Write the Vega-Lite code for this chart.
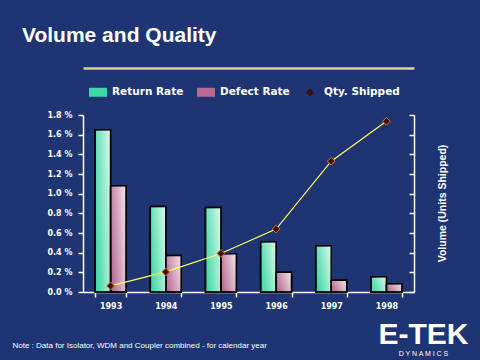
{
  "$schema": "https://vega.github.io/schema/vega-lite/v6.json",
  "width": 331,
  "height": 177,
  "autosize": {"type": "none"},
  "padding": {"left": 83, "top": 115, "right": 66, "bottom": 68},
  "background": "#1e3473",
  "config": {
    "view": {"stroke": null},
    "font": "Liberation Sans",
    "legend": {"symbolStrokeColor": "black", "symbolStrokeWidth": 1.5}
  },
  "title": {
    "text": "Volume and Quality",
    "anchor": "start",
    "frame": "group",
    "color": "white",
    "font": "Liberation Sans",
    "fontSize": 21,
    "fontWeight": "bold",
    "dx": -61,
    "offset": 22
  },
  "datasets": {
    "rates": [
      {"year": "1993", "series": "Return Rate", "rate": 1.65},
      {"year": "1993", "series": "Defect Rate", "rate": 1.08},
      {"year": "1994", "series": "Return Rate", "rate": 0.87},
      {"year": "1994", "series": "Defect Rate", "rate": 0.37},
      {"year": "1995", "series": "Return Rate", "rate": 0.86},
      {"year": "1995", "series": "Defect Rate", "rate": 0.39},
      {"year": "1996", "series": "Return Rate", "rate": 0.51},
      {"year": "1996", "series": "Defect Rate", "rate": 0.2},
      {"year": "1997", "series": "Return Rate", "rate": 0.47},
      {"year": "1997", "series": "Defect Rate", "rate": 0.12},
      {"year": "1998", "series": "Return Rate", "rate": 0.155},
      {"year": "1998", "series": "Defect Rate", "rate": 0.085}
    ],
    "qty": [
      {"year": "1993", "series": "Qty. Shipped", "qty": 0.31},
      {"year": "1994", "series": "Qty. Shipped", "qty": 1.02},
      {"year": "1995", "series": "Qty. Shipped", "qty": 1.96},
      {"year": "1996", "series": "Qty. Shipped", "qty": 3.2},
      {"year": "1997", "series": "Qty. Shipped", "qty": 6.65},
      {"year": "1998", "series": "Qty. Shipped", "qty": 8.68}
    ]
  },
  "layer": [
    {
      "data": {"name": "rates"},
      "encoding": {
        "x": {
          "field": "year",
          "type": "nominal",
          "scale": {"paddingInner": 0.44, "paddingOuter": 0.22},
          "axis": {
            "orient": "bottom",
            "tickBand": "extent",
            "labelAngle": 0,
            "labelColor": "white",
            "labelFont": "DejaVu Sans",
            "labelFontSize": 8,
            "labelFontWeight": "bold",
            "labelPadding": 5,
            "labelBaseline": "top",
            "domainColor": "white",
            "domainWidth": 1.5,
            "tickColor": "white",
            "tickWidth": 1.5,
            "tickSize": 5,
            "grid": false,
            "title": "Note : Data for Isolator, WDM and Coupler combined - for calendar year",
            "titleColor": "white",
            "titleFont": "Liberation Sans",
            "titleFontSize": 8,
            "titleFontWeight": "normal",
            "titleX": -71,
            "titleY": 53,
            "titleAlign": "left",
            "titleBaseline": "middle"
          }
        },
        "xOffset": {
          "field": "series",
          "type": "nominal",
          "scale": {"domain": ["Return Rate", "Defect Rate"], "paddingInner": 0, "paddingOuter": 0}
        },
        "y": {
          "field": "rate",
          "type": "quantitative",
          "scale": {"domain": [0, 1.8]},
          "axis": {
            "orient": "left",
            "values": [0, 0.2, 0.4, 0.6, 0.8, 1.0, 1.2, 1.4, 1.6, 1.8],
            "labelExpr": "format(datum.value, '.1f') + ' %'",
            "labelColor": "white",
            "labelFont": "DejaVu Sans",
            "labelFontSize": 8,
            "labelFontWeight": "bold",
            "labelPadding": 6,
            "domainColor": "white",
            "domainWidth": 1.5,
            "tickColor": "white",
            "tickWidth": 1.5,
            "tickSize": 5,
            "grid": false,
            "title": "E-TEK",
            "titleColor": "white",
            "titleFont": "Liberation Sans",
            "titleFontSize": 30,
            "titleFontWeight": "bold",
            "titleAngle": 0,
            "titleX": 340,
            "titleY": 219,
            "titleAlign": "center",
            "titleBaseline": "middle"
          }
        }
      },
      "layer": [
        {
          "mark": {"type": "bar", "stroke": "black", "strokeWidth": 1.5},
          "encoding": {
            "color": {
              "field": "series",
              "type": "nominal",
              "scale": {
                "domain": ["Return Rate", "Defect Rate", "Qty. Shipped"],
                "range": ["#3fd8a4", "#b86a92", "#3a1408"]
              },
              "legend": {
                "orient": "none",
                "legendX": 5,
                "legendY": -33,
                "direction": "horizontal",
                "title": null,
                "labelColor": "white",
                "labelFont": "DejaVu Sans",
                "labelFontSize": 10.5,
                "labelFontWeight": "bold",
                "symbolSize": 324,
                "symbolStrokeColor": "black",
                "symbolStrokeWidth": 1.5,
                "columnPadding": 10,
                "labelOffset": 4
              }
            }
          }
        },
        {
          "mark": {
            "type": "bar",
            "stroke": "black",
            "strokeWidth": 1.5,
            "fill": {
              "gradient": "linear",
              "x1": 0, "y1": 0.7, "x2": 1, "y2": 0.3,
              "stops": [
                {"offset": 0, "color": "rgba(255,255,255,0)"},
                {"offset": 1, "color": "rgba(255,255,255,0.75)"}
              ]
            }
          }
        }
      ]
    },
    {
      "data": {"name": "qty"},
      "encoding": {
        "x": {
          "field": "year",
          "type": "nominal",
          "axis": {
            "orient": "top",
            "offset": 47,
            "domainColor": "#d6d68e",
            "domainWidth": 2.5,
            "ticks": false,
            "labels": false,
            "grid": false,
            "title": "D Y N A M I C S",
            "titleColor": "white",
            "titleFont": "Liberation Sans",
            "titleFontSize": 7,
            "titleFontWeight": "normal",
            "titleX": 340,
            "titleY": 285,
            "titleAlign": "center",
            "titleBaseline": "middle"
          }
        },
        "y": {
          "field": "qty",
          "type": "quantitative",
          "scale": {"domain": [0, 9]},
          "axis": {
            "orient": "right",
            "values": [0, 1, 2, 3, 4, 5, 6, 7, 8, 9],
            "labels": false,
            "domainColor": "white",
            "domainWidth": 1.5,
            "tickColor": "white",
            "tickWidth": 1.5,
            "tickSize": -5,
            "grid": false,
            "title": "Volume (Units Shipped)",
            "titleColor": "white",
            "titleFont": "Liberation Sans",
            "titleFontSize": 10.5,
            "titleFontWeight": "bold",
            "titleAngle": 270,
            "titleX": 28,
            "titleY": 88,
            "titleAlign": "center",
            "titleBaseline": "middle"
          }
        }
      },
      "layer": [
        {"mark": {"type": "line", "color": "#ffff5a", "strokeWidth": 1.2}},
        {
          "mark": {"type": "point", "filled": true, "fill": "#3a1408", "stroke": "#e07030", "strokeWidth": 1, "size": 300, "opacity": 1},
          "encoding": {
            "shape": {
              "field": "series",
              "type": "nominal",
              "scale": {
                "domain": ["Return Rate", "Defect Rate", "Qty. Shipped"],
                "range": ["M-1,-0.5H1V0.5H-1Z", "M-1,-0.5H1V0.5H-1Z", "M0,-0.45L0.45,0L0,0.45L-0.45,0Z"]
              },
              "legend": {
                "orient": "none",
                "legendX": 5,
                "legendY": -33,
                "direction": "horizontal",
                "title": null,
                "labelColor": "white",
                "labelFont": "DejaVu Sans",
                "labelFontSize": 10.5,
                "labelFontWeight": "bold",
                "symbolSize": 324,
                "symbolStrokeColor": "black",
                "symbolStrokeWidth": 1.5,
                "columnPadding": 10,
                "labelOffset": 4
              }
            }
          }
        }
      ]
    }
  ],
  "resolve": {"scale": {"y": "independent"}, "axis": {"x": "independent"}}
}
